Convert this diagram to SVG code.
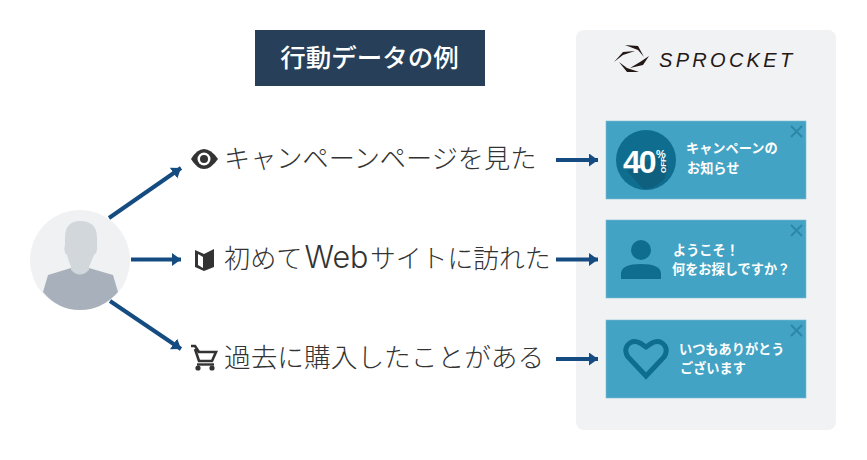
<svg xmlns="http://www.w3.org/2000/svg" width="867" height="460" viewBox="0 0 867 460">
<style>
.jp{font-family:"Noto Sans CJK JP","Liberation Sans",sans-serif}
.lab{font-size:26.200px;fill:#333;font-weight:300}
.card{fill:#43a3c4;stroke:#7cbdd3;stroke-width:.6}
.ct{font-size:13.200px;fill:#fff;font-weight:700}
.x{stroke:#2d87a8;stroke-width:2;fill:none}
.ic{fill:#0f6e8f}
.cn{stroke:#144b80;stroke-width:4;fill:none;marker-end:url(#a)}
</style>
<defs>
<marker id="a" markerUnits="userSpaceOnUse" markerWidth="12" markerHeight="14" refX="9" refY="6.5" orient="auto"><path d="M0 0L9 6.5L0 13Z" fill="#144b80"/></marker>
</defs>
<rect width="867" height="460" fill="#fff"/>
<g id="title"><rect x="255" y="30" width="230" height="56" fill="#273f58"/><text class="jp" x="369.500" y="67" font-size="25.500" font-weight="500" fill="#fff" text-anchor="middle">行動データの例</text></g>
<g id="panel"><rect x="576" y="30" width="260" height="400" rx="8" fill="#f1f2f4"/>
<g fill="#231815"><path d="M625 45L638 46L644 57L638 50Z"/><path d="M614 62L623 52L635 51L623 55Z"/><path d="M649 56L643 65L630 68L640 62Z"/><path d="M619 62L627 68L639 72L627 72Z"/></g>
<text x="659" y="67" font-family="Liberation Sans,sans-serif" font-style="italic" font-size="20" letter-spacing="3.300" fill="#231815">SPROCKET</text></g>
<g id="user"><circle cx="80" cy="260" r="50" fill="#f0f1f3"/>
<path d="M43 292L48 275L71 268Q80 277 89 268L113 275L118 292Q102 310 80 310Q58 310 43 292Z" fill="#a8b1bb"/>
<path d="M65 238Q65 221 80 221Q97 221 97 238V246Q98 252 94 255Q91 262 89 267V270Q80 279 71 270V267Q69 262 67 255Q63 252 65 245Z" fill="#d2d7dc"/></g>
<g id="connectors">
<path class="cn" d="M109 218L181 168"/>
<path class="cn" d="M131 259.500H181"/>
<path class="cn" d="M110 301L181 349"/>
<path class="cn" d="M556 160H598"/>
<path class="cn" d="M556 259.500H598"/>
<path class="cn" d="M556 359H598"/>
</g>
<g id="label1"><path d="M191 159Q197 149 204 149Q211 149 218 159Q211 169 204 169Q197 169 191 159Z" fill="#333"/><circle cx="204" cy="159" r="6.500" fill="#fff"/><circle cx="204" cy="159" r="4" fill="#333"/>
<text class="jp lab" x="224" y="168">キャンペーンページを見た</text></g>
<g id="label2"><path d="M195 250L204 254L214 249V267L204 271L195 267Z" fill="#333"/><path d="M198 254L203 257V268L198 265Z" fill="#fff"/>
<text class="jp lab" x="224" y="268">初めて<tspan x="304.500" font-family="Inter,sans-serif" font-size="30.500">Web</tspan><tspan x="370" font-size="25.800">サイトに訪れた</tspan></text></g>
<g id="label3"><path d="M191 346H195L199 352H216L212 361H199L195 349" fill="none" stroke="#333" stroke-width="2.600"/><path d="M197 364.500H214" stroke="#333" stroke-width="2.400"/><circle cx="198" cy="368" r="2.600" fill="#333"/><circle cx="212" cy="368" r="2.600" fill="#333"/>
<text class="jp lab" x="224" y="367" style="font-size:26.700px">過去に購入したことがある</text></g>
<g id="card1"><rect class="card" x="606" y="121" width="200" height="78"/><path class="x" d="M791 126L802 137M802 126L791 137"/>
<circle class="ic" cx="646" cy="160" r="30"/><path d="M627 171L664 153L668 168L664 180Q652 190 643 189Z" fill="#0f5f7e"/>
<text x="623" y="173" font-family="Liberation Sans,sans-serif" font-weight="700" font-size="32" letter-spacing="-2" fill="#fff">40</text>
<text x="656" y="158" font-family="Liberation Sans,sans-serif" font-weight="700" font-size="11" fill="#fff">%</text>
<text transform="translate(666,173) rotate(-90)" font-family="Liberation Sans,sans-serif" font-weight="700" font-size="8" fill="#fff">OFF</text>
<text class="jp ct" x="686" y="153">キャンペーンの</text><text class="jp ct" x="687" y="173">お知らせ</text></g>
<g id="card2"><rect class="card" x="606" y="220" width="200" height="78"/><path class="x" d="M791 225L802 236M802 225L791 236"/>
<circle class="ic" cx="641" cy="250" r="10"/><path class="ic" d="M621 279V273Q622 264 641 264Q660 264 661 273V279Z"/>
<text class="jp ct" x="673" y="255">ようこそ！</text><text class="jp ct" x="672" y="274">何をお探しですか？</text></g>
<g id="card3"><rect class="card" x="606" y="320" width="200" height="78"/><path class="x" d="M791 325L802 336M802 325L791 336"/>
<path d="M646 376L628 357Q624 351 627 346Q632 339 640 343L646 347L652 343Q660 339 665 346Q668 351 664 357Z" fill="none" stroke="#0f6e8f" stroke-width="5"/>
<text class="jp ct" x="679" y="354">いつもありがとう</text><text class="jp ct" x="680" y="373">ございます</text></g>
</svg>
